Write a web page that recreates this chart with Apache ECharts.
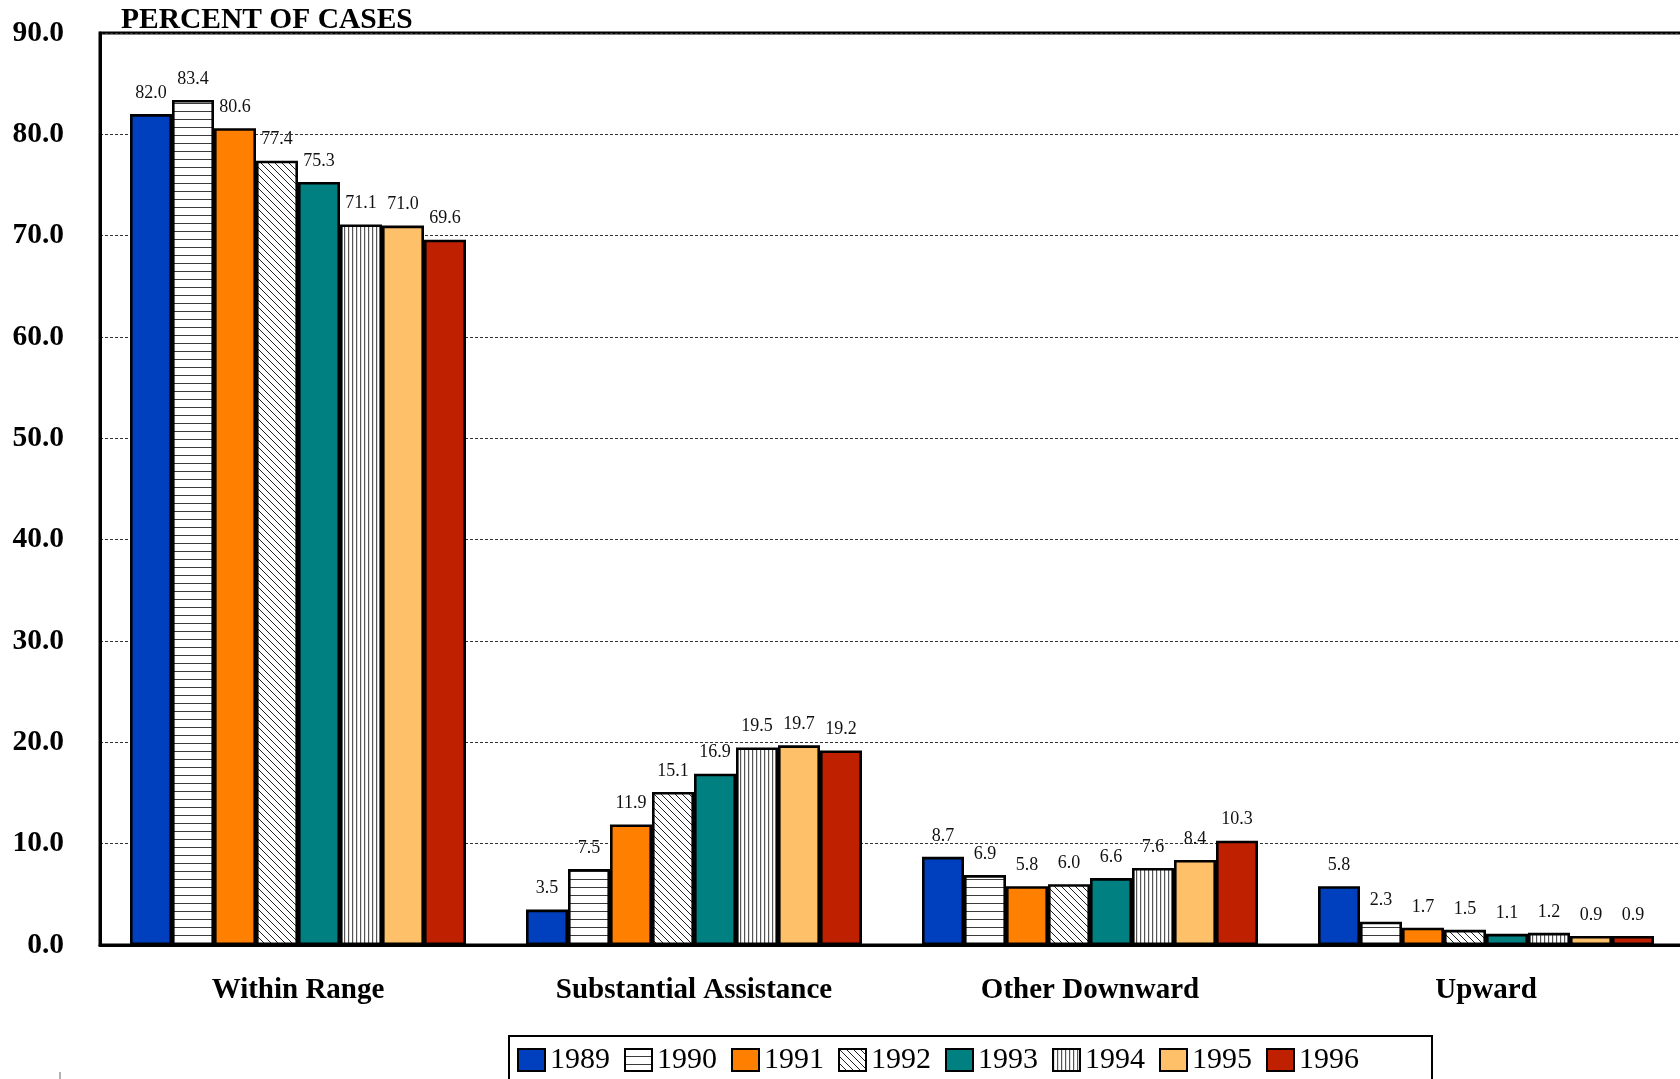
<!DOCTYPE html>
<html>
<head>
<meta charset="utf-8">
<script src="https://cdn.jsdelivr.net/npm/echarts@6/dist/echarts.min.js"></script>
<style>
html,body{margin:0;padding:0;background:#fff;}
#chart{width:1680px;height:1079px;}
</style>
</head>
<body>
<div id="chart"></div>
<script>
var categories = ['Within Range', 'Substantial Assistance', 'Other Downward', 'Upward'];
var years = ['1989', '1990', '1991', '1992', '1993', '1994', '1995', '1996'];
var v1989 = [82.0, 3.5, 8.7, 5.8];
var v1990 = [83.4, 7.5, 6.9, 2.3];
var v1991 = [80.6, 11.9, 5.8, 1.7];
var v1992 = [77.4, 15.1, 6.0, 1.5];
var v1993 = [75.3, 16.9, 6.6, 1.1];
var v1994 = [71.1, 19.5, 7.6, 1.2];
var v1995 = [71.0, 19.7, 8.4, 0.9];
var v1996 = [69.6, 19.2, 10.3, 0.9];
var yTicks = [0, 10, 20, 30, 40, 50, 60, 70, 80, 90];

var seriesValues = [v1989, v1990, v1991, v1992, v1993, v1994, v1995, v1996];

function makePattern(kind) {
  var c = document.createElement('canvas');
  var ctx;
  if (kind === 'h') {
    c.width = 8; c.height = 8;
    ctx = c.getContext('2d');
    ctx.fillStyle = '#fff'; ctx.fillRect(0, 0, 8, 8);
    ctx.fillStyle = '#3a3a3a'; ctx.fillRect(0, 7, 8, 1.4);
  } else if (kind === 'v') {
    c.width = 4; c.height = 4;
    ctx = c.getContext('2d');
    ctx.fillStyle = '#fff'; ctx.fillRect(0, 0, 4, 4);
    ctx.fillStyle = '#555'; ctx.fillRect(0, 0, 1.2, 4);
  } else {
    var s = 7;
    c.width = s; c.height = s;
    ctx = c.getContext('2d');
    ctx.fillStyle = '#fff'; ctx.fillRect(0, 0, s, s);
    ctx.strokeStyle = '#222'; ctx.lineWidth = 1;
    ctx.beginPath();
    ctx.moveTo(-1, -1); ctx.lineTo(s + 1, s + 1);
    ctx.moveTo(s - 1, -1); ctx.lineTo(s + 1, 1);
    ctx.moveTo(-1, s - 1); ctx.lineTo(1, s + 1);
    ctx.stroke();
  }
  return { image: c, repeat: 'repeat' };
}

var fills = [
  '#0040BF',
  makePattern('h'),
  '#FF8000',
  makePattern('d'),
  '#008080',
  makePattern('v'),
  '#FFC06A',
  '#BF2000'
];

var serif = "'Liberation Serif', 'Times New Roman', serif";

var series = years.map(function (y, i) {
  return {
    name: y,
    type: 'bar',
    data: seriesValues[i],
    barGap: '0%',
    barCategoryGap: '15.15%',
    itemStyle: { color: fills[i], borderColor: '#000', borderWidth: 2.6 },
    label: {
      show: true,
      position: 'top',
      distance: 12,
      fontFamily: serif,
      fontSize: 18,
      color: '#111',
      formatter: function (p) { return p.value.toFixed(1); }
    },
    emphasis: { disabled: true }
  };
});

var chart = echarts.init(document.getElementById('chart'));
chart.setOption({
  animation: false,
  backgroundColor: '#fff',
  title: {
    text: 'PERCENT OF CASES',
    left: 121, top: 5, padding: 0,
    textStyle: { fontFamily: serif, fontSize: 29.5, fontWeight: 'bold', color: '#000' }
  },
  grid: {
    left: 100, width: 1584, top: 33, bottom: 134,
    outerBoundsMode: 'none',
    containLabel: false,
    show: true, borderColor: '#000', borderWidth: 3, backgroundColor: 'transparent'
  },
  legend: {
    data: years,
    left: 509, top: 1036,
    padding: [9, 73, 30, 8],
    itemWidth: 27, itemHeight: 22, itemGap: 14,
    borderColor: '#000', borderWidth: 2,
    icon: 'rect',
    textStyle: { fontFamily: serif, fontSize: 30, color: '#000' },
    selectedMode: false
  },
  xAxis: {
    type: 'category',
    data: categories,
    axisLine: { show: true, lineStyle: { color: '#000', width: 3 } },
    axisTick: { show: false },
    axisLabel: { margin: 31, fontFamily: serif, fontSize: 29, fontWeight: 'bold', color: '#000' }
  },
  yAxis: {
    type: 'value',
    min: yTicks[0], max: yTicks[yTicks.length - 1], interval: 10,
    axisLine: { show: true, lineStyle: { color: '#000', width: 3 } },
    axisTick: { show: false },
    axisLabel: {
      margin: 36, fontFamily: serif, fontSize: 29.5, fontWeight: 'bold', color: '#000',
      formatter: function (v) { return v.toFixed(1); }
    },
    splitLine: { show: true, lineStyle: { color: '#333', width: 1, type: [3, 2] } }
  },
  graphic: [
    { type: 'line', shape: { x1: 60, y1: 1072, x2: 60, y2: 1079 }, style: { stroke: '#666', lineWidth: 1 } }
  ],
  series: series
});
</script>
</body>
</html>
